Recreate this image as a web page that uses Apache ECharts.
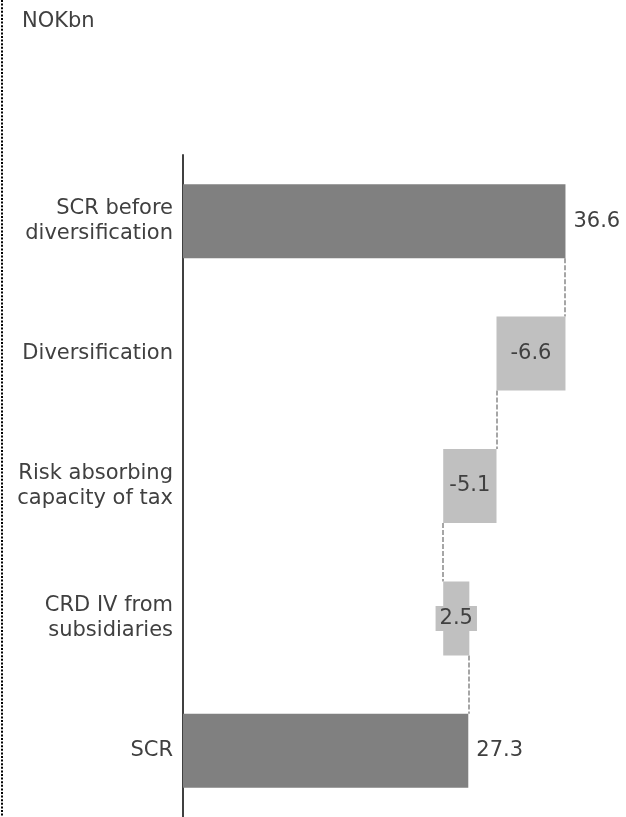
<!DOCTYPE html>
<html>
<head>
<meta charset="utf-8">
<script src="https://cdn.jsdelivr.net/npm/echarts@6/dist/echarts.min.js"></script>
<style>
  html, body { margin: 0; padding: 0; background: #fff; }
  #chart { width: 626px; height: 817px; }
</style>
</head>
<body>
<div id="chart"></div>
<script>
// 数据
const categories = ['SCR before\ndiversification', 'Diversification', 'Risk absorbing\ncapacity of tax', 'CRD IV from\nsubsidiaries', 'SCR']
const values = [36.6, -6.6, -5.1, 2.5, 27.3]
const isTotal = [true, false, false, false, true]

// waterfall: base (transparent) + length
const baseData = []
const barData = []
const runAfter = []
let run = 0
values.forEach((v, i) => {
    if (isTotal[i]) {
        baseData.push(0)
        barData.push(v)
        run = v
    } else if (v < 0) {
        baseData.push(run + v)
        barData.push(-v)
        run = run + v
    } else {
        baseData.push(run)
        barData.push(v)
        run = run + v
    }
    runAfter.push(run)
})
const connectors = runAfter.slice(0, -1).map((x, i) => [i, x])

const textColor = '#404040'
const font = 'DejaVu Sans'
const halfBar = 37

const chart = echarts.init(document.getElementById('chart'))
chart.setOption({
    animation: false,
    textStyle: { fontFamily: font },
    title: {
        text: 'NOKbn',
        left: 17,
        top: 6,
        textStyle: { fontFamily: font, fontSize: 21, fontWeight: 'normal', color: textColor }
    },
    // 左侧虚线边框
    graphic: [{
        type: 'line',
        shape: { x1: 2, y1: 0, x2: 2, y2: 817 },
        style: { stroke: '#000', lineWidth: 2, lineDash: [2, 1.6] },
        silent: true
    }],
    grid: { left: 183, right: 25, top: 155, bottom: 0 },
    xAxis: {
        type: 'value',
        min: 0,
        max: 40,
        axisLine: { show: false },
        axisTick: { show: false },
        axisLabel: { show: false },
        splitLine: { show: false }
    },
    yAxis: {
        type: 'category',
        data: categories,
        inverse: true,
        axisLine: { show: true, lineStyle: { color: textColor, width: 2 } },
        axisTick: { show: false },
        axisLabel: {
            margin: 10,
            fontFamily: font,
            fontSize: 21,
            lineHeight: 25,
            color: textColor,
            align: 'right'
        }
    },
    series: [
        {
            type: 'bar',
            stack: 'w',
            data: baseData,
            itemStyle: { color: 'transparent' },
            barWidth: halfBar * 2,
            silent: true
        },
        {
            type: 'bar',
            stack: 'w',
            barWidth: halfBar * 2,
            data: barData.map((v, i) => ({
                value: v,
                itemStyle: { color: isTotal[i] ? '#808080' : '#c0c0c0' },
                label: isTotal[i]
                    ? { position: 'right', distance: 8 }
                    : { position: 'inside', backgroundColor: '#c0c0c0', padding: [2, 4] }
            })),
            label: {
                show: true,
                fontFamily: font,
                fontSize: 21,
                color: textColor,
                formatter: p => values[p.dataIndex].toFixed(1)
            }
        },
        {
            type: 'custom',
            data: connectors,
            encode: { x: 1, y: 0 },
            z: 1,
            renderItem: (params, api) => {
                const i = api.value(0)
                const x = api.value(1)
                const p1 = api.coord([x, i])
                const p2 = api.coord([x, i + 1])
                const px = Math.round(p1[0])
                return {
                    type: 'line',
                    shape: { x1: px, y1: p1[1] + halfBar, x2: px, y2: p2[1] - halfBar },
                    style: { stroke: '#a6a6a6', lineWidth: 2, lineDash: [5, 2] }
                }
            }
        }
    ]
})
</script>
</body>
</html>
